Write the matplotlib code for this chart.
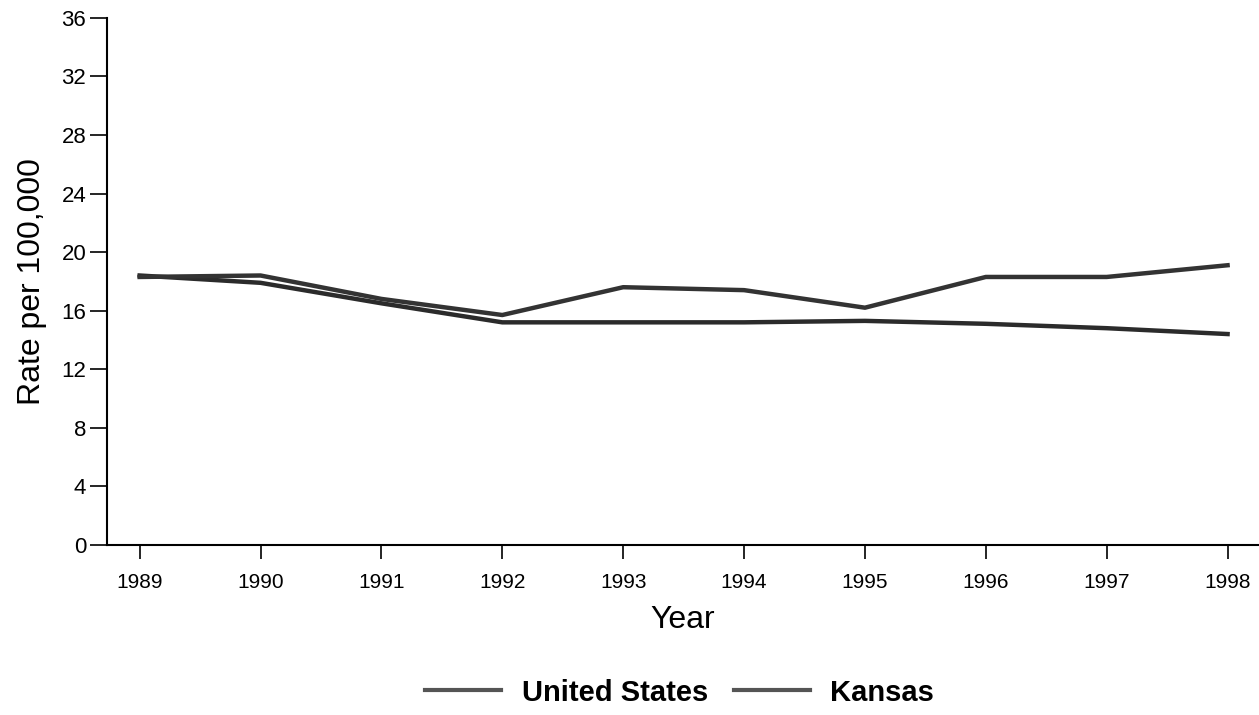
import matplotlib.pyplot as plt
import numpy as np

years = [1989, 1990, 1991, 1992, 1993, 1994, 1995, 1996, 1997, 1998]
kansas = [18.3, 18.4, 16.8, 15.7, 17.6, 17.4, 16.2, 18.3, 18.3, 19.1]
united_states = [18.4, 17.9, 16.5, 15.2, 15.2, 15.2, 15.3, 15.1, 14.8, 14.4]
yticks = [0, 4, 8, 12, 16, 20, 24, 28, 32, 36]

plt.rcParams['font.family'] = ['Liberation Sans', 'DejaVu Sans']

fig = plt.figure(figsize=(12.59, 7.15), dpi=100)
ax = fig.add_axes([0.085, 0.238, 0.915, 0.737])

ax.plot(years, united_states, color='#2b2b2b', linewidth=3.2, label='United States')
ax.plot(years, kansas, color='#333333', linewidth=3.2, label='Kansas')

ax.set_xlim(1988.73, 1998.26)
ax.set_ylim(0, 36)
ax.set_yticks(yticks)
ax.set_xticks(years)
ax.tick_params(axis='y', length=12, width=1.2, labelsize=16, pad=3)
ax.tick_params(axis='x', length=10, width=1.2, labelsize=15, pad=10)

for side in ['top', 'right']:
    ax.spines[side].set_visible(False)
ax.spines['left'].set_linewidth(1.5)
ax.spines['bottom'].set_linewidth(1.5)

ax.set_ylabel('Rate per 100,000', fontsize=23, labelpad=10)
ax.set_xlabel('Year', fontsize=23, labelpad=10)

leg = fig.legend(loc='lower center', bbox_to_anchor=(0.54, -0.025), ncol=2,
                 frameon=False, handlelength=2.6, handletextpad=0.7,
                 columnspacing=0.9, prop={'size': 21, 'weight': 'bold'})
for line in leg.get_lines():
    line.set_linewidth(3)
    line.set_color('#555555')

fig.savefig('out.png', dpi=100)
